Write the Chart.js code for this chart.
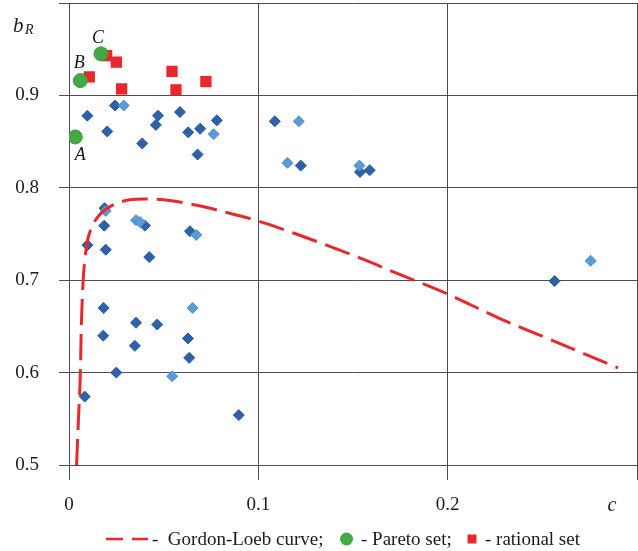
<!DOCTYPE html>
<html><head><meta charset="utf-8">
<script src="https://cdn.jsdelivr.net/npm/chart.js@4"></script>
<style>html,body{margin:0;padding:0;background:#fff;overflow:hidden}</style>
</head><body>
<canvas id="c" width="638" height="551"></canvas>
<script>
// ---- data ----
const xTickValues = [0, 0.1, 0.2, 0.3];
const xTickLabels = ['0', '0.1', '0.2', ''];
const yTickValues = [0.5, 0.6, 0.7, 0.8, 0.9, 1.0];
const yTickLabels = ['0.5', '0.6', '0.7', '0.8', '0.9', ''];

const curveX = [0.004, 0.005, 0.006, 0.0065, 0.0075, 0.0095, 0.012, 0.015, 0.019, 0.025, 0.032, 0.040, 0.050, 0.060, 0.070, 0.080, 0.100, 0.120, 0.150, 0.175, 0.200, 0.227, 0.254, 0.290];
const curveY = [0.500, 0.550, 0.600, 0.650, 0.700, 0.740, 0.757, 0.768, 0.776, 0.783, 0.787, 0.788, 0.787, 0.784, 0.780, 0.775, 0.764, 0.750, 0.727, 0.706, 0.685, 0.659, 0.636, 0.605];

const paretoX = [0.0033, 0.0060, 0.0169];
const paretoY = [0.855, 0.916, 0.945];
const paretoNames = ['A', 'B', 'C'];

const rationalX = [0.0199, 0.0250, 0.0107, 0.0278, 0.0544, 0.0565, 0.0723];
const rationalY = [0.943, 0.936, 0.920, 0.907, 0.926, 0.906, 0.915];

const darkX = [0.0097, 0.0202, 0.0243, 0.0387, 0.0459, 0.0470, 0.0586, 0.0630, 0.0693, 0.0679, 0.0781, 0.1087, 0.1224, 0.1537, 0.1588,
               0.0188, 0.0186, 0.0097, 0.0194, 0.0401, 0.0424, 0.0639, 0.0183, 0.0354, 0.0466, 0.0181, 0.0348, 0.0628, 0.0635, 0.0250, 0.0083, 0.0897, 0.2565];
const darkY = [0.878, 0.861, 0.889, 0.848, 0.868, 0.878, 0.882, 0.860, 0.864, 0.836, 0.873, 0.872, 0.824, 0.817, 0.819,
               0.778, 0.759, 0.738, 0.733, 0.759, 0.725, 0.753, 0.670, 0.654, 0.652, 0.640, 0.629, 0.637, 0.616, 0.600, 0.574, 0.554, 0.699];

const lightX = [0.0289, 0.0764, 0.1214, 0.1154, 0.1534, 0.0194, 0.0354, 0.0375, 0.0672, 0.0653, 0.0545, 0.2755];
const lightY = [0.889, 0.858, 0.872, 0.827, 0.824, 0.775, 0.765, 0.763, 0.749, 0.670, 0.596, 0.721];

const legendLabels = ['-  Gordon-Loeb curve;', '- Pareto set;', '- rational set'];

// ---- build ----
const pts = (xs, ys) => xs.map((x, i) => ({x, y: ys[i]}));
const FONT = "'Liberation Serif', 'Times New Roman', serif";
const GRID = '#4d4d4d';
const RED = '#e8282c';
const GREEN = '#44a844';

const textPlugin = {
  id: 'texts',
  afterDraw(chart) {
    const ctx = chart.ctx;
    const xs = chart.scales.x, ys = chart.scales.y;
    ctx.save();
    ctx.fillStyle = '#1a1a1a';
    ctx.textBaseline = 'alphabetic';
    // axis names
    ctx.font = 'italic 21px ' + FONT;
    ctx.textAlign = 'left';
    ctx.fillText('b', 13, 32);
    ctx.font = 'italic 14px ' + FONT;
    ctx.fillText('R', 25, 34);
    ctx.font = 'italic 20px ' + FONT;
    ctx.textAlign = 'center';
    ctx.fillText('c', 612, 511);
    // point names
    const offs = [[5, 23], [-1, -13], [-3, -11]];
    ctx.font = 'italic 18px ' + FONT;
    paretoNames.forEach((n, i) => {
      const px = xs.getPixelForValue(paretoX[i]);
      const py = ys.getPixelForValue(paretoY[i]);
      ctx.fillText(n, px + offs[i][0], py + offs[i][1]);
    });
    // legend
    const ly = 539;
    ctx.strokeStyle = RED;
    ctx.lineWidth = 2.5;
    ctx.setLineDash([17, 9]);
    ctx.beginPath(); ctx.moveTo(106, ly); ctx.lineTo(148, ly); ctx.stroke();
    ctx.setLineDash([]);
    ctx.font = '19px ' + FONT;
    ctx.textAlign = 'left';
    ctx.fillStyle = '#1a1a1a';
    ctx.fillText(legendLabels[0], 152, 545);
    ctx.fillStyle = GREEN;
    ctx.beginPath(); ctx.arc(346.5, ly, 6.5, 0, Math.PI * 2); ctx.fill();
    ctx.fillStyle = '#1a1a1a';
    ctx.fillText(legendLabels[1], 361, 545);
    ctx.fillStyle = RED;
    ctx.fillRect(467.5, 534.5, 9, 9);
    ctx.fillStyle = '#1a1a1a';
    ctx.fillText(legendLabels[2], 485, 545);
    ctx.restore();
  }
};

new Chart(document.getElementById('c'), {
  type: 'scatter',
  data: {
    datasets: [
      { label: 'Pareto set', data: pts(paretoX, paretoY), pointStyle: 'circle', pointRadius: 7,
        backgroundColor: GREEN, borderColor: '#3b9a3b', borderWidth: 1 },
      { label: 'rational set', data: pts(rationalX, rationalY), pointStyle: 'rect', pointRadius: 8,
        backgroundColor: RED, borderColor: RED, borderWidth: 0 },
      { type: 'line', label: 'Gordon-Loeb curve', data: pts(curveX, curveY), borderColor: RED, borderWidth: 3,
        borderDash: [26, 9], pointRadius: 0, fill: false, cubicInterpolationMode: 'monotone', showLine: true },
      { label: 'light', data: pts(lightX, lightY), pointStyle: 'rectRot', pointRadius: 5.5,
        backgroundColor: '#5a9ad6', borderColor: '#4f8fcf', borderWidth: 1 },
      { label: 'dark', data: pts(darkX, darkY), pointStyle: 'rectRot', pointRadius: 5.5,
        backgroundColor: '#2e62a8', borderColor: '#2a5a9e', borderWidth: 1 }
    ]
  },
  options: {
    responsive: false,
    animation: false,
    devicePixelRatio: 1,
    layout: { autoPadding: false, padding: { top: 3, right: 1, left: 0, bottom: 0 } },
    plugins: { legend: { display: false }, tooltip: { enabled: false } },
    scales: {
      x: {
        type: 'linear', position: 'bottom', min: 0, max: 0.3,
        afterBuildTicks: s => { s.ticks = xTickValues.map(v => ({value: v})); },
        afterFit: s => { s.height = 86; s.paddingLeft = 0; s.paddingRight = 0; },
        ticks: {
          autoSkip: false, maxRotation: 0, padding: 14, color: '#1a1a1a',
          font: { family: FONT, size: 19 },
          callback: v => { const i = xTickValues.findIndex(t => Math.abs(t - v) < 1e-9); return i >= 0 ? xTickLabels[i] : ''; }
        },
        grid: { color: GRID, lineWidth: 1, tickLength: 15, drawTicks: true },
        border: { display: true, color: GRID }
      },
      y: {
        type: 'linear', min: 0.5, max: 1.0,
        afterBuildTicks: s => { s.ticks = yTickValues.map(v => ({value: v})); },
        afterFit: s => { s.width = 69; s.paddingTop = 0; s.paddingBottom = 0; },
        ticks: {
          autoSkip: false, padding: 20, color: '#1a1a1a',
          font: { family: FONT, size: 19 },
          callback: v => { const i = yTickValues.findIndex(t => Math.abs(t - v) < 1e-9); return i >= 0 ? yTickLabels[i] : ''; }
        },
        grid: { color: GRID, lineWidth: 1, tickLength: 10, drawTicks: true },
        border: { display: true, color: GRID }
      }
    }
  },
  plugins: [textPlugin]
});
</script>
</body></html>
